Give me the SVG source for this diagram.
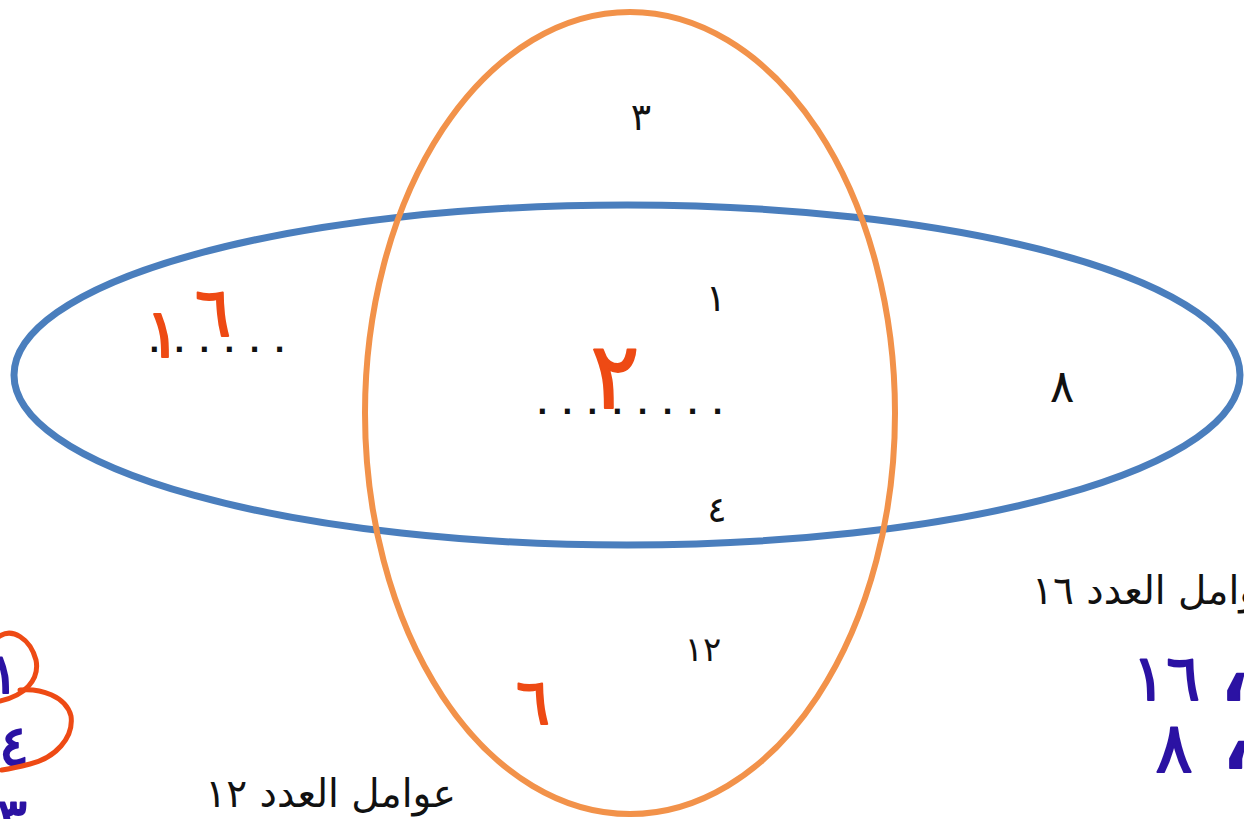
<svg xmlns="http://www.w3.org/2000/svg" width="1244" height="819" viewBox="0 0 1244 819">
<style>
.t{font-family:"DejaVu Sans",sans-serif;fill:#111}
.d{font-family:"DejaVu Sans",sans-serif;font-weight:bold;fill:#111;font-size:28px;letter-spacing:14.4px}
.hr{font-family:"DejaVu Sans",sans-serif;fill:#EE4A14;stroke:#EE4A14;stroke-width:1.8;stroke-linejoin:round}
.hp{font-family:"DejaVu Sans",sans-serif;fill:#2B12A3;stroke:#2B12A3;stroke-width:1.8;stroke-linejoin:round}
.loop{fill:none;stroke:#EE4A14;stroke-width:5;stroke-linecap:round;stroke-linejoin:round}
</style>
<rect width="1244" height="819" fill="#fff"/>
<g id="set16">
<ellipse cx="627" cy="375" rx="613" ry="170" fill="none" stroke="#4A7EBD" stroke-width="7"/>
</g>
<g id="set12">
<ellipse cx="630" cy="413" rx="265" ry="401" fill="none" stroke="#F2924A" stroke-width="6"/>
</g>
<g id="labels">
<text class="t" x="641" y="130" font-size="38" text-anchor="middle">٣</text>
<text class="t" x="716" y="311" font-size="38" text-anchor="middle">١</text>
<text class="t" x="1062" y="402" font-size="46" text-anchor="middle">٨</text>
<text class="t" x="717" y="522" font-size="36" text-anchor="middle">٤</text>
<text class="t" x="703" y="661" font-size="34" text-anchor="middle">١٢</text>
<text class="d" x="537" y="414">........</text>
<text class="d" x="149" y="352">......</text>
<text class="t" x="1032" y="604" font-size="39" text-anchor="start">عوامل العدد ١٦</text>
<text class="t" x="456" y="807" font-size="39" text-anchor="end">عوامل العدد  ١٢</text>
</g>
<g id="handwriting">
<text class="hr" font-size="68"><tspan x="163" y="357" text-anchor="middle">١</tspan><tspan x="213" y="336" text-anchor="middle">٦</tspan></text>
<text class="hr" x="615" y="408" font-size="92" text-anchor="middle">٢</text>
<text class="hr" x="533" y="724" font-size="64" text-anchor="middle">٦</text>
<text class="hp" x="1166" y="700" font-size="64" text-anchor="middle">١٦</text>
<text class="hp" x="1234" y="700" font-size="110" text-anchor="middle">،</text>
<text class="hp" x="1174" y="772" font-size="70" text-anchor="middle">٨</text>
<text class="hp" x="1236" y="768" font-size="110" text-anchor="middle">،</text>
<text class="hp" x="4" y="693" font-size="56" text-anchor="middle">١</text>
<text class="hp" x="14" y="765" font-size="56" text-anchor="middle">٤</text>
<text class="hp" x="12" y="838" font-size="56" text-anchor="middle">٣</text>
<path class="loop" d="M0,636 C12,628 30,638 36,660 C40,680 24,696 0,701"/>
<path class="loop" d="M20,690 C40,688 66,696 71,716 C74,738 55,758 30,764 C18,767 8,769 2,770"/>
</g>
</svg>
